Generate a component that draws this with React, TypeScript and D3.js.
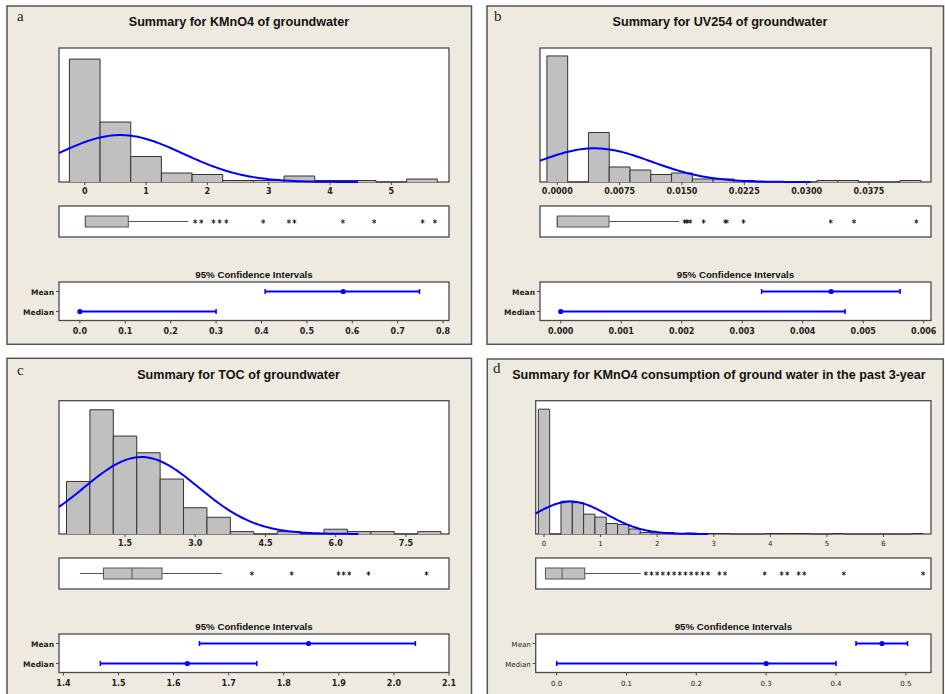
import React from 'react';
import * as d3 from 'd3';

// a: KMnO4 of groundwater
const kmBins = [0, 0.5, 1, 1.5, 2, 2.5, 3, 3.5, 4, 4.5, 5, 5.5];
const kmCounts = [82, 40, 17, 6, 5, 1, 1, 4, 1, 1, 0, 2];
const kmFit = [0.58, 1.02]; // mean, stdev
const kmBox = [0.01, 0.01, 0.71, 0.01, 1.69]; // q1, median, q3, whisker lo, whisker hi
const kmOutliers = [1.8, 1.9, 2.1, 2.2, 2.31, 2.91, 3.33, 3.42, 4.21, 4.72, 5.51, 5.71];
const kmTicks = [0, 1, 2, 3, 4, 5];
const kmMeanCI = [0.408, 0.58, 0.748]; // lo, point, hi
const kmMedianCI = [0, 0, 0.3];
const kmCITicks = [0, 0.1, 0.2, 0.3, 0.4, 0.5, 0.6, 0.7, 0.8];

// b: UV254 of groundwater
const uvBins = [0, 0.0025, 0.005, 0.0075, 0.01, 0.0125, 0.015, 0.0175, 0.02, 0.0225, 0.025, 0.0275, 0.03, 0.0325, 0.035, 0.0375, 0.04, 0.0425];
const uvCounts = [84, 0, 33, 10, 8, 5, 6, 2, 2, 1, 0, 0, 0, 1, 1, 0, 0, 1];
const uvFit = [0.00447, 0.00684];
const uvBox = [0, 0, 0.00622, 0, 0.01465];
const uvOutliers = [0.0153, 0.0155, 0.0157, 0.016, 0.0176, 0.0202, 0.0204, 0.0224, 0.0329, 0.0357, 0.0432];
const uvTicks = [0, 0.0075, 0.015, 0.0225, 0.03, 0.0375];
const uvMeanCI = [0.00332, 0.00447, 0.00561];
const uvMedianCI = [0, 0, 0.0047];
const uvCITicks = [0, 0.001, 0.002, 0.003, 0.004, 0.005, 0.006];

// c: TOC of groundwater
const tocBins = [0.5, 1, 1.5, 2, 2.5, 3, 3.5, 4, 4.5, 5, 5.5, 6, 6.5, 7, 7.5, 8];
const tocCounts = [22, 52, 41, 34, 23, 11, 7, 1, 0, 1, 0, 2, 1, 1, 0, 1];
const tocFit = [1.85, 1.22];
const tocBox = [1.04, 1.65, 2.29, 0.54, 3.57];
const tocOutliers = [4.21, 5.06, 6.06, 6.17, 6.29, 6.7, 7.94];
const tocTicks = [1.5, 3, 4.5, 6, 7.5];
const tocMeanCI = [1.647, 1.845, 2.039];
const tocMedianCI = [1.467, 1.625, 1.751];
const tocCITicks = [1.4, 1.5, 1.6, 1.7, 1.8, 1.9, 2.0, 2.1];

// d: KMnO4 consumption, past 3 years
const k3Bins = [0, 0.2, 0.4, 0.6, 0.8, 1, 1.2, 1.4, 1.6, 1.8, 2, 2.2, 2.4, 2.6, 2.8, 3, 3.2, 3.4, 3.6, 3.8, 4, 4.2, 4.4, 4.6, 4.8, 5, 5.2, 5.4, 5.6, 5.8, 6, 6.2, 6.4, 6.6];
const k3Counts = [251, 0, 66, 63, 40, 34, 21, 19, 10, 3, 2, 3, 1, 2, 1, 1, 1, 0, 0, 0, 1, 1, 1, 1, 0, 0, 1, 0, 0, 0, 0, 0, 0, 1];
const k3Fit = [0.467, 0.64];
const k3Box = [0.025, 0.32, 0.72, 0.025, 1.71];
const k3Outliers = [1.8, 1.9, 2.0, 2.1, 2.2, 2.3, 2.4, 2.5, 2.6, 2.7, 2.8, 2.9, 3.1, 3.2, 3.9, 4.2, 4.3, 4.5, 4.6, 5.3, 6.7];
const k3Ticks = [0, 1, 2, 3, 4, 5, 6];
const k3MeanCI = [0.4286, 0.4658, 0.5024];
const k3MedianCI = [0, 0.3, 0.4];
const k3CITicks = [0, 0.1, 0.2, 0.3, 0.4, 0.5];

const BG = '#EEEADF';
const FRAME = '#4a4a4a';
const BLUE = '#0000FF';
const TITLE_FONT = "'Liberation Sans', Arial, sans-serif";
const TICK_FONT = "'DejaVu Sans', Verdana, sans-serif";

const panels = [
  {
    letter: 'a', title: 'Summary for KMnO4 of groundwater',
    frame: [7, 6, 464.5, 338.3], letterPos: [17, 21], titlePos: [239, 26],
    px: [59, 449], hy: [48, 182], histDomain: [-0.42, 5.94], head: 1.09,
    bins: kmBins, counts: kmCounts, fit: kmFit, box: kmBox, outliers: kmOutliers,
    ticks: kmTicks, tickFmt: d3.format('d'),
    ciDomain: [-0.046, 0.813], meanCI: kmMeanCI, medianCI: kmMedianCI, ciTicks: kmCITicks, ciFmt: d3.format('.1f'),
    bold: true,
  },
  {
    letter: 'b', title: 'Summary for UV254 of groundwater',
    frame: [487, 6, 456.5, 338.3], letterPos: [494, 21], titlePos: [720, 26],
    px: [540, 931], hy: [48, 182], histDomain: [-0.00208, 0.04496], head: 1.063,
    bins: uvBins, counts: uvCounts, fit: uvFit, box: uvBox, outliers: uvOutliers,
    ticks: uvTicks, tickFmt: d3.format('.4f'),
    ciDomain: [-0.000342, 0.00612], meanCI: uvMeanCI, medianCI: uvMedianCI, ciTicks: uvCITicks, ciFmt: d3.format('.3f'),
    bold: true,
  },
  {
    letter: 'c', title: 'Summary for TOC of groundwater',
    frame: [7, 358.3, 464.5, 400], letterPos: [17, 375], titlePos: [238.5, 378.5],
    px: [59, 449], hy: [400.7, 534], histDomain: [0.09, 8.42], head: 1.073,
    bins: tocBins, counts: tocCounts, fit: tocFit, box: tocBox, outliers: tocOutliers,
    ticks: tocTicks, tickFmt: d3.format('.1f'),
    ciDomain: [1.392, 2.1], meanCI: tocMeanCI, medianCI: tocMedianCI, ciTicks: tocCITicks, ciFmt: d3.format('.1f'),
    bold: true,
  },
  {
    letter: 'd', title: 'Summary for KMnO4 consumption of ground water in the past 3-year',
    frame: [487.3, 359, 456, 400], letterPos: [493, 373], titlePos: [719, 379],
    px: [535.7, 931], hy: [400.7, 534], histDomain: [-0.147, 6.84], head: 1.068,
    bins: k3Bins, counts: k3Counts, fit: k3Fit, box: k3Box, outliers: k3Outliers,
    ticks: k3Ticks, tickFmt: d3.format('d'),
    ciDomain: [-0.03, 0.536], meanCI: k3MeanCI, medianCI: k3MedianCI, ciTicks: k3CITicks, ciFmt: d3.format('.1f'),
    bold: false,
  },
];

const normalPdf = (v, m, s) => Math.exp(-((v - m) ** 2) / (2 * s * s)) / (s * Math.sqrt(2 * Math.PI));

function Panel({ p }) {
  const [px0, px1] = p.px;
  const [hy0, hy1] = p.hy;
  const x = d3.scaleLinear().domain(p.histDomain).range([px0, px1]);
  const y = d3.scaleLinear().domain([0, d3.max(p.counts) * p.head]).range([hy1, hy0]);
  const bw = p.bins[1] - p.bins[0];
  const n = d3.sum(p.counts);
  const [mean, sd] = p.fit;

  // fitted normal curve
  const x0 = p.histDomain[0];
  const xEnd = mean + 3.8 * sd;
  const curvePts = d3.range(121).map(i => x0 + (i * (xEnd - x0)) / 120);
  const curve = d3.line()
    .x(v => x(v))
    .y(v => y(n * bw * normalPdf(v, mean, sd)))(curvePts);

  // boxplot strip
  const by0 = hy1 + 24;
  const by1 = by0 + 31;
  const bmid = (by0 + by1) / 2;
  const [q1, med, q3, wlo, whi] = p.box;
  const star = d3.symbol(d3.symbolAsterisk, 12)();

  // confidence intervals
  const cy0 = by1 + 45;
  const cy1 = cy0 + 38.5;
  const cx = d3.scaleLinear().domain(p.ciDomain).range([px0, px1]);
  const rows = [
    { label: 'Mean', ci: p.meanCI, yy: cy0 + 9.5 },
    { label: 'Median', ci: p.medianCI, yy: cy0 + 29.5 },
  ];

  const tickFont = p.bold
    ? { fontFamily: TICK_FONT, fontWeight: 700, fontSize: 8 }
    : { fontFamily: TICK_FONT, fontWeight: 400, fontSize: 7 };
  const labFont = p.bold
    ? { fontFamily: TICK_FONT, fontWeight: 700, fontSize: 7.5 }
    : { fontFamily: TICK_FONT, fontWeight: 400, fontSize: 7 };

  const [fx, fy, fw, fh] = p.frame;

  return (
    <g>
      <rect x={fx} y={fy} width={fw} height={fh} fill={BG} stroke="#555" strokeWidth={1.5} />
      <text x={p.letterPos[0]} y={p.letterPos[1]} fontFamily="'Liberation Serif', serif" fontSize={15} fill="#222">{p.letter}</text>
      <text x={p.titlePos[0]} y={p.titlePos[1]} textAnchor="middle" fontFamily={TITLE_FONT} fontWeight={700} fontSize={12.6} fill="#111">{p.title}</text>

      {/* histogram */}
      <rect x={px0} y={hy0} width={px1 - px0} height={hy1 - hy0} fill="#fff" stroke={FRAME} strokeWidth={1.3} />
      {p.bins.map((c, i) => {
        const xl = x(c - bw / 2);
        const xr = x(c + bw / 2);
        const yt = y(p.counts[i]);
        return (
          <path key={i} d={`M${xl},${hy1}V${yt}H${xr}V${hy1}`} fill="#C0C0C0" stroke="#333" strokeWidth={1} />
        );
      })}
      <path d={curve} fill="none" stroke={BLUE} strokeWidth={2} />
      {p.ticks.map(t => (
        <g key={t} transform={`translate(${x(t)},${hy1})`}>
          <line y1={0} y2={3} stroke={FRAME} />
          <text y={12} textAnchor="middle" fill="#222" {...tickFont}>{p.tickFmt(t)}</text>
        </g>
      ))}

      {/* boxplot */}
      <rect x={px0} y={by0} width={px1 - px0} height={by1 - by0} fill="#fff" stroke={FRAME} strokeWidth={1.3} />
      <line x1={x(wlo)} x2={x(q1)} y1={bmid} y2={bmid} stroke="#555" />
      <line x1={x(q3)} x2={x(whi)} y1={bmid} y2={bmid} stroke="#555" />
      <rect x={x(q1)} y={bmid - 5.5} width={x(q3) - x(q1)} height={11} fill="#C0C0C0" stroke="#555" strokeWidth={1} />
      <line x1={x(med)} x2={x(med)} y1={bmid - 5.5} y2={bmid + 5.5} stroke="#555" />
      {p.outliers.map((v, i) => (
        <path key={i} d={star} transform={`translate(${x(v)},${bmid})`} fill="none" stroke="#222" strokeWidth={1} />
      ))}

      {/* confidence intervals */}
      <text x={(px0 + px1) / 2} y={cy0 - 4.5} textAnchor="middle" fontFamily={TITLE_FONT} fontWeight={700} fontSize={9.7} fill="#111">95% Confidence Intervals</text>
      <rect x={px0} y={cy0} width={px1 - px0} height={cy1 - cy0} fill="#fff" stroke={FRAME} strokeWidth={1.3} />
      {rows.map(r => (
        <g key={r.label}>
          <line x1={px0 - 3} x2={px0} y1={r.yy} y2={r.yy} stroke={FRAME} />
          <text x={px0 - 5} y={r.yy + 3} textAnchor="end" fill="#222" {...labFont}>{r.label}</text>
          <line x1={cx(r.ci[0])} x2={cx(r.ci[2])} y1={r.yy} y2={r.yy} stroke={BLUE} strokeWidth={2} />
          <line x1={cx(r.ci[0])} x2={cx(r.ci[0])} y1={r.yy - 2.5} y2={r.yy + 2.5} stroke={BLUE} strokeWidth={1.5} />
          <line x1={cx(r.ci[2])} x2={cx(r.ci[2])} y1={r.yy - 2.5} y2={r.yy + 2.5} stroke={BLUE} strokeWidth={1.5} />
          <circle cx={cx(r.ci[1])} cy={r.yy} r={2.6} fill={BLUE} />
        </g>
      ))}
      {p.ciTicks.map(t => {
        const tx = cx(t);
        const inside = tx <= px1 + 0.5;
        return (
          <g key={t}>
            {inside && <line x1={tx} x2={tx} y1={cy1} y2={cy1 + 3} stroke={FRAME} />}
            <text x={inside ? tx : px1 - 1} y={cy1 + 13} textAnchor={inside ? 'middle' : 'end'} fill="#222" {...tickFont}>{p.ciFmt(t)}</text>
          </g>
        );
      })}
    </g>
  );
}

export default function App() {
  return (
    <svg width={945} height={694} style={{ position: 'absolute', left: 0, top: 0, background: '#fff' }}>
      {panels.map(p => <Panel key={p.letter} p={p} />)}
    </svg>
  );
}
